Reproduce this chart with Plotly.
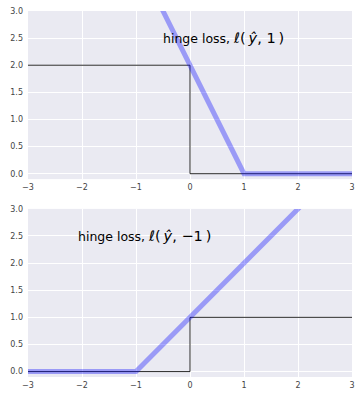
import plotly.graph_objects as go
from plotly.subplots import make_subplots

# Data
step_x = [-3, 0, 0, 3]
step_pos = [2, 2, 0, 0]       # zero-one style step, y = 1
step_neg = [0, 0, 1, 1]       # zero-one style step, y = -1
hinge_pos_x = [-3, 1, 3]
hinge_pos_y = [8, 0, 0]       # hinge loss, y = 1
hinge_neg_x = [-3, -1, 3]
hinge_neg_y = [0, 0, 4]       # hinge loss, y = -1
x_ticks = [-3, -2, -1, 0, 1, 2, 3]
y_ticks = [0.0, 0.5, 1.0, 1.5, 2.0, 2.5, 3.0]

fig = make_subplots(rows=2, cols=1, vertical_spacing=0.0813)

black = dict(color="rgba(20,20,20,0.9)", width=1)
blue = dict(color="rgba(0,0,255,0.34)", width=5)

fig.add_trace(go.Scatter(x=step_x, y=step_pos, mode="lines", line=black), row=1, col=1)
fig.add_trace(go.Scatter(x=hinge_pos_x, y=hinge_pos_y, mode="lines", line=blue), row=1, col=1)
fig.add_trace(go.Scatter(x=step_x, y=step_neg, mode="lines", line=black), row=2, col=1)
fig.add_trace(go.Scatter(x=hinge_neg_x, y=hinge_neg_y, mode="lines", line=blue), row=2, col=1)

axis_common = dict(
    showgrid=True, gridcolor="white", gridwidth=1, zeroline=False,
    showline=False, ticks="", tickfont=dict(size=8, color="#444", family="DejaVu Sans"),
)
for r in (1, 2):
    fig.update_xaxes(range=[-3, 3], tickvals=x_ticks, ticktext=[("\u2212" + str(-v)) if v < 0 else str(v) for v in x_ticks],
                     ticklabelstandoff=2, **axis_common, row=r, col=1)
    fig.update_yaxes(range=[-0.1, 3.0], tickvals=y_ticks, ticktext=[f"{v:.1f}" for v in y_ticks],
                     ticklabelstandoff=4, **axis_common, row=r, col=1)

ts = "\u2009"
math_pos = f"<span style='font-size:14.5px'><i>ℓ</i>({ts}<i>ŷ</i>, 1{ts})</span>"
math_neg = f"<span style='font-size:14.5px'><i>ℓ</i>({ts}<i>ŷ</i>, \u22121{ts})</span>"

fig.update_layout(
    width=358, height=393,
    margin=dict(l=28, r=3, t=11, b=13),
    plot_bgcolor="#EAEAF2", paper_bgcolor="white",
    showlegend=False, hovermode=False,
    annotations=[
        dict(x=-0.53, y=2.5, xref="x", yref="y", xanchor="left", yanchor="middle",
             text="hinge loss, " + math_pos, showarrow=False,
             font=dict(size=12.5, color="black", family="DejaVu Sans")),
        dict(x=-2.11, y=2.5, xref="x2", yref="y2", xanchor="left", yanchor="middle",
             text="hinge loss, " + math_neg, showarrow=False,
             font=dict(size=12.5, color="black", family="DejaVu Sans")),
    ],
)

fig.write_html("out.html")
